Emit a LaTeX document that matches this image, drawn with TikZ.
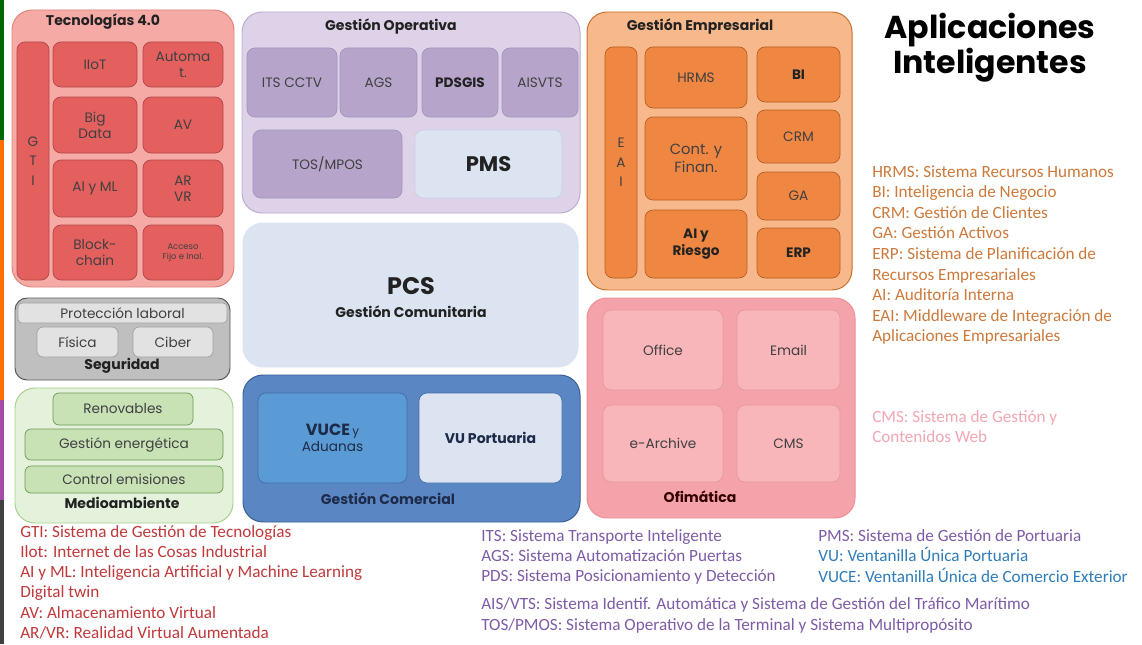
\documentclass[tikz,border=0pt]{standalone}
\usepackage{fontspec}
\setmainfont{Poppins}
\newfontfamily\legfont{Carlito}
\usetikzlibrary{calc}

\definecolor{tecout}{HTML}{F5AAA6}
\definecolor{tecoutd}{HTML}{E0847E}
\definecolor{tecin}{HTML}{E3605F}
\definecolor{tecind}{HTML}{B54646}
\definecolor{segout}{HTML}{BFBFBF}
\definecolor{segoutd}{HTML}{595959}
\definecolor{segin}{HTML}{E2E2E2}
\definecolor{segind}{HTML}{A0A0A0}
\definecolor{medout}{HTML}{E4F1DB}
\definecolor{medoutd}{HTML}{A9D18E}
\definecolor{medin}{HTML}{C8E2B6}
\definecolor{medind}{HTML}{6E9A50}
\definecolor{opout}{HTML}{DDD2E8}
\definecolor{opoutd}{HTML}{BBADD0}
\definecolor{opin}{HTML}{B6A4CB}
\definecolor{opind}{HTML}{A493BC}
\definecolor{paleblue}{HTML}{DCE4F2}
\definecolor{paleblued}{HTML}{C6D0E4}
\definecolor{comout}{HTML}{5A86C4}
\definecolor{comoutd}{HTML}{3A5E98}
\definecolor{comin}{HTML}{5B9BD5}
\definecolor{comind}{HTML}{3E6FA6}
\definecolor{empout}{HTML}{F7B98C}
\definecolor{empoutd}{HTML}{C8702C}
\definecolor{empin}{HTML}{EF8742}
\definecolor{empind}{HTML}{B95F22}
\definecolor{ofiout}{HTML}{F5A3AA}
\definecolor{ofioutd}{HTML}{EC8E96}
\definecolor{ofiin}{HTML}{F8B5BA}
\definecolor{ofiind}{HTML}{E6989E}
\definecolor{txtgray}{HTML}{404040}
\definecolor{txtdark}{HTML}{222222}
\definecolor{txtnavy}{HTML}{1E2B48}
\definecolor{legred}{HTML}{C0393B}
\definecolor{legpurple}{HTML}{7E5CA6}
\definecolor{legblue}{HTML}{2F7DB8}
\definecolor{legorange}{HTML}{CC7A3C}
\definecolor{legpink}{HTML}{F2A7B4}

\tikzset{
  outer/.style={rounded corners=0.5cm, line width=0.7pt},
  inner/.style={rounded corners=0.2cm, line width=0.5pt},
  lbl/.style={font=\fontsize{9.7}{11.5}\selectfont, text=txtgray, align=center, inner sep=0pt},
  head/.style={font=\bfseries\fontsize{10}{12}\selectfont, text=txtdark, inner sep=0pt},
  leg/.style={font=\legfont\fontsize{12.2}{14}\selectfont, anchor=base west, inner sep=0pt},
}

% box with a label in its centre
\newcommand{\blk}[7][]{%
  \draw[#2] (#3,#4) rectangle (#5,#6);
  \node[lbl,#1] (#7) at ($(#3,#4)!.5!(#5,#6)$) {\blktext};}

\begin{document}
\begin{tikzpicture}[x=0.025cm,y=-0.025cm]
	\useasboundingbox[fill=white] (0,0) rectangle (1142,644);
	% edge strip
	\fill[green!40!black] (0,0) rectangle (4,140);
	\fill[orange!85!red] (0,140) rectangle (4,400);
	\fill[violet!70] (0,400) rectangle (4,500);
	\fill[black!75] (0,500) rectangle (4,644);

	% Tecnologias 4.0
	\draw[outer,fill=tecout,draw=tecoutd] (12,10) rectangle (234,287);
	\node[head] (tec) at (103,22) {Tecnologías 4.0};
	\def\blktext{G\\T\\I}\blk[font=\fontsize{9.7}{14}\selectfont,text=black!75]{inner,fill=tecin,draw=tecind}{17}{42}{49}{280}{gti}
	\tikzset{every node/.append style={text=black!70}}
	\def\blktext{IIoT}\blk{inner,fill=tecin,draw=tecind}{53}{42}{137}{87}{iiot}
	\def\blktext{Automa\\t.}\blk{inner,fill=tecin,draw=tecind}{143}{42}{223}{87}{autom}
	\def\blktext{Big\\Data}\blk{inner,fill=tecin,draw=tecind}{53}{97}{137}{153}{bigdata}
	\def\blktext{AV}\blk{inner,fill=tecin,draw=tecind}{143}{97}{223}{153}{av}
	\def\blktext{AI y ML}\blk{inner,fill=tecin,draw=tecind}{53}{160}{137}{217}{aiml}
	\def\blktext{AR\\VR}\blk{inner,fill=tecin,draw=tecind}{143}{160}{223}{217}{arvr}
	\def\blktext{Block-\\chain}\blk{inner,fill=tecin,draw=tecind}{53}{225}{137}{280}{block}
	\def\blktext{Acceso\\Fijo e Inal.}\blk[font=\fontsize{6}{7.5}\selectfont]{inner,fill=tecin,draw=tecind}{143}{225}{223}{280}{acceso}
	\tikzset{every node/.append style={text=txtgray}}

	% Seguridad
	\draw[outer,rounded corners=0.3cm,fill=segout,draw=segoutd] (15,298) rectangle (230,380);
	\def\blktext{Protección laboral}\blk{inner,rounded corners=0.1cm,fill=segin,draw=segind}{18}{303}{227}{323}{prot}
	\def\blktext{Física}\blk{inner,rounded corners=0.15cm,fill=segin,draw=segind}{37}{327}{118}{357}{fisica}
	\def\blktext{Ciber}\blk{inner,rounded corners=0.15cm,fill=segin,draw=segind}{133}{327}{213}{357}{ciber}
	\node[head] (seg) at (122,366) {Seguridad};

	% Medioambiente
	\draw[outer,fill=medout,draw=medoutd] (15,388) rectangle (233,523);
	\def\blktext{Renovables}\blk{inner,rounded corners=0.15cm,fill=medin,draw=medind}{53}{393}{193}{425}{renov}
	\def\blktext{Gestión energética}\blk{inner,rounded corners=0.15cm,fill=medin,draw=medind}{25}{429}{223}{460}{energ}
	\def\blktext{Control emisiones}\blk{inner,rounded corners=0.15cm,fill=medin,draw=medind}{25}{466}{223}{493}{emis}
	\node[head] (med) at (122,503) {Medioambiente};

	% Gestion Operativa
	\draw[outer,fill=opout,draw=opoutd] (242,12) rectangle (580,213);
	\node[head] (oper) at (391,27) {Gestión Operativa};
	\def\blktext{ITS CCTV}\blk{inner,fill=opin,draw=opind}{247}{48}{337}{117}{its}
	\def\blktext{AGS}\blk{inner,fill=opin,draw=opind}{340}{48}{417}{117}{ags}
	\def\blktext{\textbf{PDSGIS}}\blk[text=txtdark]{inner,fill=opin,draw=opind}{422}{48}{498}{117}{pds}
	\def\blktext{AISVTS}\blk{inner,fill=opin,draw=opind}{502}{48}{578}{117}{ais}
	\def\blktext{TOS/MPOS}\blk{inner,fill=opin,draw=opind}{253}{130}{402}{198}{tos}
	\def\blktext{\textbf{PMS}}\blk[font=\fontsize{15}{17}\selectfont,text=txtdark]{inner,fill=paleblue,draw=paleblued}{415}{130}{562}{198}{pms}

	% PCS
	\draw[outer,fill=paleblue,draw=paleblue] (243,223) rectangle (578,367);
	\node[font=\bfseries\fontsize{17}{19}\selectfont, text=txtdark] (pcs) at (411,286) {PCS};
	\node[head] (comun) at (411,312) {Gestión Comunitaria};

	% Gestion Comercial
	\draw[outer,fill=comout,draw=comoutd] (243,375) rectangle (580,522);
	\def\blktext{{\bfseries\fontsize{11.5}{12}\selectfont VUCE}\,{\fontsize{8.5}{9}\selectfont y}\\Aduanas}\blk[text=txtnavy]{inner,fill=comin,draw=comind}{258}{393}{407}{483}{vuce}
	\def\blktext{\textbf{VU Portuaria}}\blk[font=\fontsize{10}{11}\selectfont,text=txtnavy]{inner,fill=paleblue,draw=comind}{419}{393}{562}{483}{vup}
	\node[head,text=txtnavy] (comer) at (388,499) {Gestión Comercial};

	% Gestion Empresarial
	\draw[outer,fill=empout,draw=empoutd] (587,12) rectangle (852,290);
	\node[head] (empr) at (700,27) {Gestión Empresarial};
	\tikzset{every node/.append style={text=black!70}}
	\def\blktext{E\\A\\I}\blk[font=\fontsize{9.7}{14}\selectfont]{inner,fill=empin,draw=empind}{605}{47}{637}{278}{eai}
	\def\blktext{HRMS}\blk{inner,fill=empin,draw=empind}{645}{47}{747}{108}{hrms}
	\def\blktext{Cont. y\\Finan.}\blk[font=\fontsize{10.5}{13}\selectfont]{inner,fill=empin,draw=empind}{645}{117}{747}{200}{cont}
	\def\blktext{\textbf{AI y}\\\textbf{Riesgo}}\blk[text=txtdark]{inner,fill=empin,draw=empind}{645}{210}{747}{278}{airies}
	\def\blktext{\textbf{BI}}\blk[text=txtdark]{inner,fill=empin,draw=empind}{757}{47}{840}{102}{bi}
	\def\blktext{CRM}\blk{inner,fill=empin,draw=empind}{757}{110}{840}{163}{crm}
	\def\blktext{GA}\blk{inner,fill=empin,draw=empind}{757}{172}{840}{220}{ga}
	\def\blktext{\textbf{ERP}}\blk[text=txtdark]{inner,fill=empin,draw=empind}{757}{228}{840}{278}{erp}
	\tikzset{every node/.append style={text=txtgray}}

	% Ofimatica
	\draw[outer,fill=ofiout,draw=ofioutd] (587,298) rectangle (855,518);
	\def\blktext{Office}\blk{inner,fill=ofiin,draw=ofiind}{603}{310}{723}{390}{office}
	\def\blktext{Email}\blk{inner,fill=ofiin,draw=ofiind}{737}{310}{840}{390}{email}
	\def\blktext{e-Archive}\blk{inner,fill=ofiin,draw=ofiind}{603}{405}{723}{482}{earch}
	\def\blktext{CMS}\blk{inner,fill=ofiin,draw=ofiind}{737}{405}{840}{482}{cms}
	\node[head,text=black!80!red] (ofi) at (700,497) {Ofimática};

	% title
	\node[font=\bfseries\fontsize{22.5}{21.5}\selectfont, align=center, text=black] (title) at (990,48) {Aplicaciones\\Inteligentes};

	% legends
	\foreach \t [count=\i] in {HRMS: Sistema Recursos Humanos, BI: Inteligencia de Negocio, CRM: Gestión de Clientes, GA: Gestión Activos, ERP: Sistema de Planificación de, Recursos Empresariales, AI: Auditoría Interna, EAI: Middleware de Integración de, Aplicaciones Empresariales}
		\node[leg,text=legorange] (lr\i) at (872,156.5+20.6*\i) {\t};
	\node[leg,text=legpink] (lcms1) at (872,422) {CMS: Sistema de Gestión y};
	\node[leg,text=legpink] (lcms2) at (872,442) {Contenidos Web};

	\foreach \t [count=\i] in {GTI: Sistema de Gestión de Tecnologías, Ilot: Internet de las Cosas Industrial, AI y ML: Inteligencia Artificial y Machine Learning, Digital twin, AV: Almacenamiento Virtual, AR/VR: Realidad Virtual Aumentada}
		\node[leg,text=legred] (ll\i) at (20,517+20.2*\i) {\t};

	\node[leg,text=legpurple] (lits) at (481,541) {ITS: Sistema Transporte Inteligente};
	\node[leg,text=legpurple] (lags) at (481,561) {AGS: Sistema Automatización Puertas};
	\node[leg,text=legpurple] (lpds) at (481,581) {PDS: Sistema Posicionamiento y Detección};
	\node[leg,text=legpurple] (lais) at (481,609) {AIS/VTS: Sistema Identif. Automática y Sistema de Gestión del Tráfico Marítimo};
	\node[leg,text=legpurple] (ltos) at (481,630) {TOS/PMOS: Sistema Operativo de la Terminal y Sistema Multipropósito};
	\node[leg,text=legpurple] (lpms) at (818,541) {PMS: Sistema de Gestión de Portuaria};
	\node[leg,text=legblue] (lvu) at (818,561) {VU: Ventanilla Única Portuaria};
	\node[leg,text=legblue] (lvuce) at (818,582) {VUCE: Ventanilla Única de Comercio Exterior};
\end{tikzpicture}
\end{document}
